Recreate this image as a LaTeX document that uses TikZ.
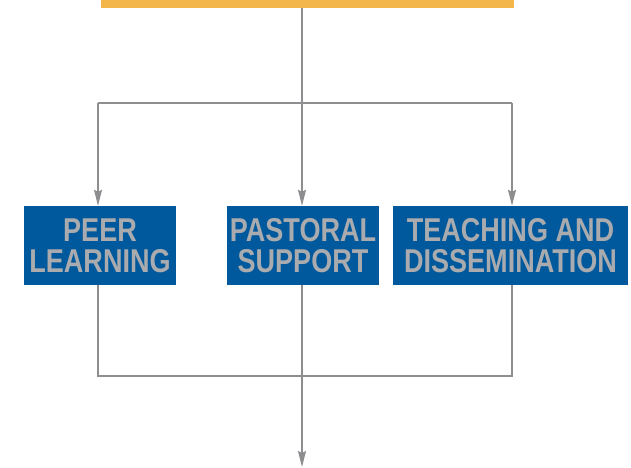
\documentclass[tikz,border=0pt]{standalone}
\usepackage{fontspec}
\setmainfont{Liberation Sans}
\newfontfamily\boxfont[FakeStretch=0.82]{Liberation Sans}
\usetikzlibrary{arrows.meta}
\definecolor{barorange}{HTML}{F2B64B}
\definecolor{boxblue}{HTML}{00599C}
\definecolor{txtgray}{HTML}{A9ABAE}
\definecolor{linegray}{HTML}{8E8E90}
\tikzset{
  bluebox/.style={fill=boxblue, draw=none, inner sep=0pt, minimum height=79pt,
    text=txtgray, align=center, font=\boxfont\fontsize{33}{31}\selectfont\bfseries},
  conn/.style={draw=linegray, line width=1.4pt},
  arr/.style={conn, -{Stealth[length=16pt,width=8pt,inset=2pt]}}
}
\begin{document}
\begin{tikzpicture}[x=1pt,y=-1pt]
\useasboundingbox (0,0) rectangle (631,467);
\node[fill=barorange, inner sep=0pt, minimum width=413pt, minimum height=7.5pt] (top) at (307.5,3.75) {};
\node[bluebox, minimum width=152pt] (b1) at (100,245.5) {PEER\\LEARNING};
\node[bluebox, minimum width=152pt] (b2) at (303,245.5) {PASTORAL\\SUPPORT};
\node[bluebox, minimum width=235pt] (b3) at (510.5,245.5) {TEACHING AND\\DISSEMINATION};
\coordinate (sl) at (98,103);
\coordinate (sc) at (302,103);
\coordinate (sr) at (512,103);
\coordinate (jl) at (98,376);
\coordinate (jc) at (302,376);
\coordinate (jr) at (512,376);
\coordinate (end) at (302,467);
\draw[conn] (sc |- top.south) -- (sc);
\draw[conn] (sl) -- (sr);
\draw[arr] (sl) -- (sl |- b1.north);
\draw[arr] (sc) -- (sc |- b2.north);
\draw[arr] (sr) -- (sr |- b3.north);
\draw[conn] (jl |- b1.south) -- (jl) -- (jr) -- (jr |- b3.south);
\draw[arr] (jc |- b2.south) -- (end);
\end{tikzpicture}
\end{document}
